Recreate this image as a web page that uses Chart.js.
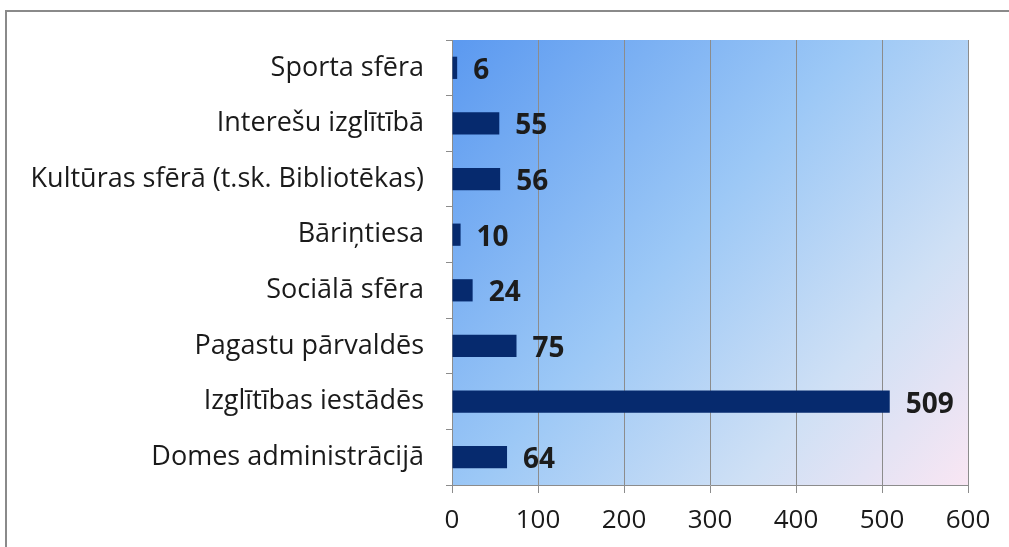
<!DOCTYPE html>
<html>
<head>
<meta charset="utf-8">
<script src="https://cdn.jsdelivr.net/npm/chart.js@4.4.1/dist/chart.umd.min.js"></script>
<style>
  html, body { margin: 0; padding: 0; background: #ffffff; }
  #wrap { position: relative; width: 1009px; height: 547px; overflow: hidden; }
  #frame { position: absolute; left: 5px; top: 10px; width: 1100px; height: 600px; border: 2px solid #8a8a8a; box-sizing: border-box; }
  canvas { position: absolute; left: 0; top: 0; }
</style>
</head>
<body>
<div id="wrap">
  <div id="frame"></div>
  <canvas id="c" width="1009" height="547"></canvas>
</div>
<script>
const categories = [
  "Sporta sfēra",
  "Interešu izglītībā",
  "Kultūras sfērā (t.sk. Bibliotēkas)",
  "Bāriņtiesa",
  "Sociālā sfēra",
  "Pagastu pārvaldēs",
  "Izglītības iestādēs",
  "Domes administrācijā"
];
const values = [6, 55, 56, 10, 24, 75, 509, 64];
const xTicks = [0, 100, 200, 300, 400, 500, 600];

const bgPlugin = {
  id: 'bgGradient',
  beforeDraw(chart) {
    const { ctx, chartArea: a } = chart;
    const g = ctx.createLinearGradient(a.left, a.top, a.right, a.bottom);
    g.addColorStop(0, '#5b99f0');
    g.addColorStop(0.45, '#9cc8f6');
    g.addColorStop(0.75, '#cfe0f5');
    g.addColorStop(1, '#f9e6f3');
    ctx.save();
    ctx.fillStyle = g;
    ctx.fillRect(a.left, a.top, a.right - a.left, a.bottom - a.top);
    ctx.restore();
  }
};

const labelPlugin = {
  id: 'valueLabels',
  afterDatasetsDraw(chart) {
    const { ctx } = chart;
    const meta = chart.getDatasetMeta(0);
    ctx.save();
    ctx.font = 'bold 28px "Open Sans"';
    ctx.fillStyle = '#1c1c1c';
    ctx.textAlign = 'left';
    ctx.textBaseline = 'middle';
    meta.data.forEach((bar, i) => {
      ctx.fillText(String(chart.data.datasets[0].data[i]), bar.x + 16, bar.y + 3);
    });
    ctx.restore();
  }
};

new Chart(document.getElementById('c'), {
  type: 'bar',
  data: {
    labels: categories,
    datasets: [{
      data: values,
      backgroundColor: '#062a6e',
      borderWidth: 0,
      categoryPercentage: 1.0,
      barPercentage: 0.4
    }]
  },
  options: {
    indexAxis: 'y',
    responsive: false,
    animation: false,
    layout: { padding: { left: 0, right: 41, top: 40, bottom: 0 } },
    plugins: { legend: { display: false }, tooltip: { enabled: false } },
    scales: {
      x: {
        min: 0, max: 600,
        afterBuildTicks(scale) { scale.ticks = xTicks.map(v => ({ value: v })); },
        afterFit(scale) { scale.height = 62; },
        grid: { color: '#8c8c8c', lineWidth: 1, tickLength: 8, drawTicks: true },
        border: { display: true, color: '#8c8c8c' },
        ticks: { color: '#1a1a1a', font: { family: 'Open Sans', size: 26 }, padding: 12, maxRotation: 0 }
      },
      y: {
        afterFit(scale) { scale.width = 452; },
        grid: { offset: true, drawOnChartArea: false, drawTicks: true, tickLength: 6, color: '#8c8c8c' },
        border: { display: true, color: '#8c8c8c' },
        ticks: { color: '#1a1a1a', font: { family: 'Open Sans', size: 27 }, padding: 22 }
      }
    }
  },
  plugins: [bgPlugin, labelPlugin]
});
</script>
</body>
</html>
